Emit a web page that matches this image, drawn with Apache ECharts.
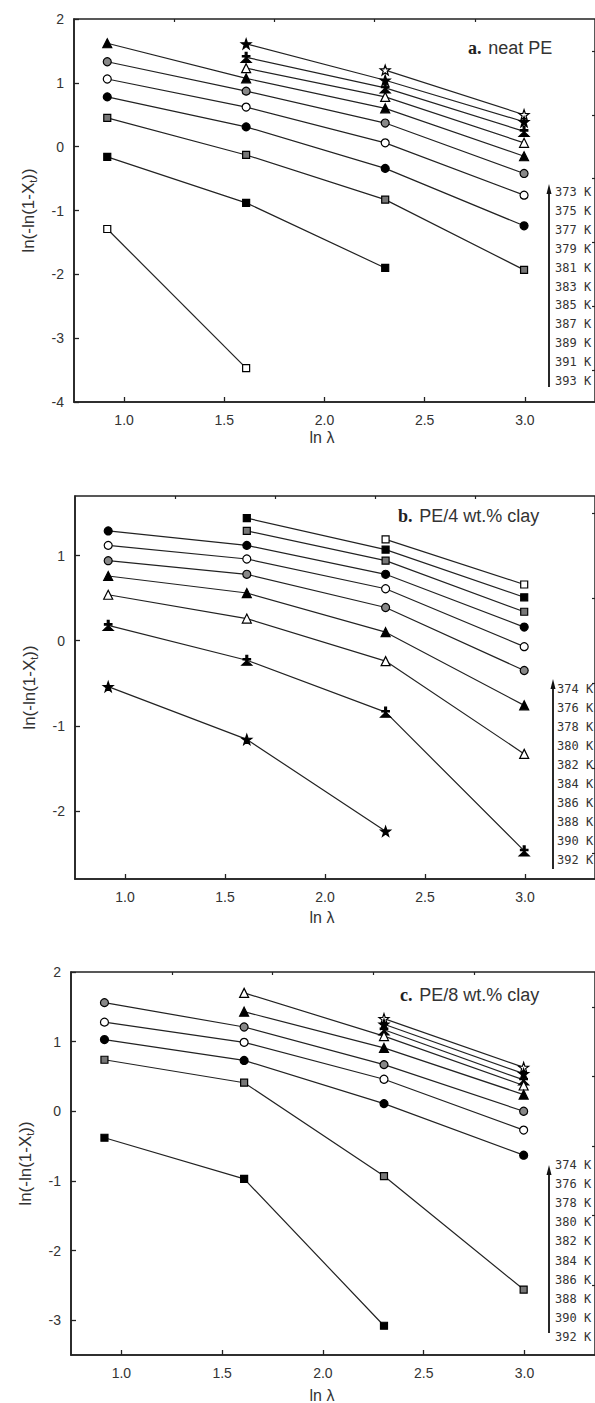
<!DOCTYPE html>
<html>
<head>
<meta charset="utf-8">
<script src="https://cdn.jsdelivr.net/npm/echarts@6/dist/echarts.min.js"></script>
<style>
html,body{margin:0;padding:0;background:#fff;}
#chart{width:595px;height:1403px;}
</style>
</head>
<body>
<div id="chart"></div>
<script>
// ---- data ----
const lnLambda = [0.916, 1.609, 2.303, 2.996];
const xTickValues = [1.0, 1.5, 2.0, 2.5, 3.0];
const xMinorValues = [1.25, 1.75, 2.25, 2.75];

// Panel a: neat PE (373..393 K)
const tempsA = ['373 K','375 K','377 K','379 K','381 K','383 K','385 K','387 K','389 K','391 K','393 K'];
const markersA = ['oSt','fSt','cross','oTr','fTr','sCi','oCi','fCi','dSq','fSq','oSq'];
const a373 = [null, null, 1.20, 0.50];
const a375 = [null, 1.61, 1.04, 0.39];
const a377 = [null, 1.40, 0.92, 0.24];
const a379 = [null, 1.23, 0.78, 0.06];
const a381 = [1.62, 1.07, 0.60, -0.15];
const a383 = [1.33, 0.87, 0.37, -0.42];
const a385 = [1.06, 0.62, 0.06, -0.76];
const a387 = [0.78, 0.31, -0.34, -1.24];
const a389 = [0.45, -0.13, -0.83, -1.93];
const a391 = [-0.16, -0.88, -1.90, null];
const a393 = [-1.29, -3.47, null, null];
const valuesA = [a373,a375,a377,a379,a381,a383,a385,a387,a389,a391,a393];
const yTicksA = [-4,-3,-2,-1,0,1,2];
const yMinorA = [-3.5,-2.5,-1.5,-0.5,0.5,1.5];

// Panel b: PE/4 wt.% clay (374..392 K)
const tempsB = ['374 K','376 K','378 K','380 K','382 K','384 K','386 K','388 K','390 K','392 K'];
const markersB = ['oSq','fSq','dSq','fCi','oCi','sCi','fTr','oTr','cross','fSt'];
const b374 = [null, null, 1.19, 0.66];
const b376 = [null, 1.44, 1.07, 0.51];
const b378 = [null, 1.29, 0.94, 0.34];
const b380 = [1.29, 1.12, 0.78, 0.16];
const b382 = [1.12, 0.96, 0.61, -0.07];
const b384 = [0.94, 0.78, 0.39, -0.35];
const b386 = [0.76, 0.56, 0.10, -0.76];
const b388 = [0.54, 0.26, -0.24, -1.33];
const b390 = [0.18, -0.23, -0.84, -2.47];
const b392 = [-0.54, -1.16, -2.24, null];
const valuesB = [b374,b376,b378,b380,b382,b384,b386,b388,b390,b392];
const yTicksB = [-2,-1,0,1];
const yMinorB = [-2.5,-1.5,-0.5,0.5,1.5];

// Panel c: PE/8 wt.% clay (374..392 K)
const tempsC = ['374 K','376 K','378 K','380 K','382 K','384 K','386 K','388 K','390 K','392 K'];
const markersC = ['oSt','fSt','cross','oTr','fTr','sCi','oCi','fCi','dSq','fSq'];
const c374 = [null, null, 1.33, 0.63];
const c376 = [null, null, 1.25, 0.54];
const c378 = [null, null, 1.17, 0.45];
const c380 = [null, 1.70, 1.08, 0.37];
const c382 = [null, 1.43, 0.91, 0.24];
const c384 = [1.56, 1.21, 0.67, 0.00];
const c386 = [1.28, 0.99, 0.46, -0.27];
const c388 = [1.03, 0.73, 0.11, -0.63];
const c390 = [0.74, 0.41, -0.93, -2.56];
const c392 = [-0.38, -0.97, -3.08, null];
const valuesC = [c374,c376,c378,c380,c382,c384,c386,c388,c390,c392];
const yTicksC = [-3,-2,-1,0,1,2];
const yMinorC = [-2.5,-1.5,-0.5,0.5,1.5];

// ---- styles ----
const STAR = 'path://M0,-10 L2.35,-3.24 L9.51,-3.09 L3.8,1.24 L5.88,8.09 L0,4 L-5.88,8.09 L-3.8,1.24 L-9.51,-3.09 L-2.35,-3.24 Z';
const CROSS = 'path://M-1.5,-10 L1.5,-10 L1.5,-4 L6,-4 L6,-1.5 L1.5,-1.5 L1.5,1 L8,8 L-8,8 L-1.5,1 L-1.5,-1.5 L-6,-1.5 L-6,-4 L-1.5,-4 Z';
const markerStyles = {
  oSq:{symbol:'rect', size:7, fill:'#fff'},
  fSq:{symbol:'rect', size:7, fill:'#000'},
  dSq:{symbol:'rect', size:7, fill:'#777'},
  fCi:{symbol:'circle', size:8, fill:'#000'},
  oCi:{symbol:'circle', size:8, fill:'#fff'},
  sCi:{symbol:'circle', size:8, fill:'#888'},
  fTr:{symbol:'triangle', size:9, fill:'#000'},
  oTr:{symbol:'triangle', size:9, fill:'#fff'},
  fSt:{symbol:STAR, size:10, fill:'#000'},
  oSt:{symbol:STAR, size:10, fill:'#fff'},
  cross:{symbol:CROSS, size:10, fill:'#000'}
};

const FONT = 'Liberation Sans, Arial, sans-serif';
const panels = [
  {left:74, top:19, height:383, ppu:207, yMin:-4, yMax:2, yTicks:yTicksA, yMinor:yMinorA, temps:tempsA, markers:markersA, values:valuesA,
   title:['a.','neat PE'], titleX:468, titleY:50, legX:555, legArrowX:549, legY0:192, legStep:18.9, arrowTop:186, arrowBottom:387, xNameY:437},
  {left:75, top:496, height:383, ppu:208, yMin:-2.8, yMax:1.7, yTicks:yTicksB, yMinor:yMinorB, temps:tempsB, markers:markersB, values:valuesB,
   title:['b.','PE/4 wt.% clay'], titleX:398, titleY:518, legX:557, legArrowX:553, legY0:689, legStep:19, arrowTop:681, arrowBottom:869, xNameY:917},
  {left:71, top:972, height:383, ppu:209, yMin:-3.5, yMax:2, yTicks:yTicksC, yMinor:yMinorC, temps:tempsC, markers:markersC, values:valuesC,
   title:['c.','PE/8 wt.% clay'], titleX:400, titleY:997, legX:555, legArrowX:549, legY0:1165, legStep:19.1, arrowTop:1167, arrowBottom:1333, xNameY:1395}
];
const X_MIN = 0.75, X_MAX = 3.35;

const grid = [], xAxis = [], yAxis = [], series = [], graphic = [];
panels.forEach((p, pi) => {
  grid.push({left:p.left, top:p.top, height:p.height, width:(X_MAX - X_MIN) * p.ppu,
    show:true, borderColor:'#222', borderWidth:1.5, backgroundColor:'transparent', containLabel:false});
  // major x axis
  xAxis.push({gridIndex:pi, type:'value', min:X_MIN, max:X_MAX,
    axisLine:{show:true, onZero:false, lineStyle:{color:'#222', width:1.6}},
    axisTick:{show:true, inside:true, length:5, customValues:xTickValues, lineStyle:{color:'#222', width:1.3}},
    axisLabel:{show:true, customValues:xTickValues, margin:11, color:'#333', fontSize:14, fontFamily:FONT,
      formatter:v => v.toFixed(1)},
    splitLine:{show:false}});
  // minor x ticks
  xAxis.push({gridIndex:pi, type:'value', min:X_MIN, max:X_MAX,
    axisLine:{show:false, onZero:false},
    axisTick:{show:true, inside:true, length:3, customValues:xMinorValues, lineStyle:{color:'#222', width:1.2}},
    axisLabel:{show:false}, splitLine:{show:false}});
  // major y axis
  yAxis.push({gridIndex:pi, type:'value', min:p.yMin, max:p.yMax,
    name:'{a|ln(-ln(1-X}{s|t}{a|))}', nameLocation:'middle', nameGap:36, nameRotate:90,
    nameTextStyle:{color:'#333', fontFamily:FONT,
      rich:{a:{fontSize:17, color:'#333', fontFamily:FONT}, s:{fontSize:11, color:'#333', fontFamily:FONT, padding:[9,0,0,0]}}},
    axisLine:{show:true, onZero:false, lineStyle:{color:'#222', width:1.6}},
    axisTick:{show:true, inside:true, length:5, customValues:p.yTicks, lineStyle:{color:'#222', width:1.3}},
    axisLabel:{show:true, customValues:p.yTicks, margin:10, color:'#333', fontSize:14, fontFamily:FONT,
      formatter:v => String(Math.round(v))},
    splitLine:{show:false}});
  // minor y ticks
  yAxis.push({gridIndex:pi, type:'value', min:p.yMin, max:p.yMax,
    axisLine:{show:false, onZero:false},
    axisTick:{show:true, inside:true, length:3, customValues:p.yMinor, lineStyle:{color:'#222', width:1.2}},
    axisLabel:{show:false}, splitLine:{show:false}});

  p.values.forEach((vals, si) => {
    const m = markerStyles[p.markers[si]];
    const data = [];
    lnLambda.forEach((x, i) => { if (vals[i] !== null) data.push([x, vals[i]]); });
    series.push({
      type:'line', name:p.temps[si], xAxisIndex:pi*2, yAxisIndex:pi*2, data:data,
      symbol:m.symbol, symbolSize:m.size, showAllSymbol:true, animation:false,
      lineStyle:{color:'#222', width:1.2},
      itemStyle:{color:m.fill, borderColor:'#000', borderWidth:1.2},
      emphasis:{disabled:true}, z:3
    });
  });

  // panel title
  graphic.push({type:'text', left:p.titleX, top:p.titleY - 11, silent:true,
    style:{text:'{b|' + p.title[0] + '}  {n|' + p.title[1] + '}',
      rich:{b:{fontSize:18, fontWeight:'bold', fontFamily:'Liberation Serif, Times New Roman, serif', fill:'#222'},
            n:{fontSize:18, fontFamily:FONT, fill:'#333'}}}});
  // x axis name
  graphic.push({type:'text', x:322, y:p.xNameY, silent:true,
    style:{text:'ln λ', fontSize:16, fontFamily:FONT, fill:'#333', align:'center', verticalAlign:'middle'}});
  // legend arrow
  graphic.push({type:'line', silent:true, shape:{x1:p.legArrowX, y1:p.arrowTop + 4, x2:p.legArrowX, y2:p.arrowBottom},
    style:{stroke:'#111', lineWidth:1.8}});
  graphic.push({type:'polygon', silent:true,
    shape:{points:[[p.legArrowX - 2.5, p.arrowTop + 8], [p.legArrowX, p.arrowTop - 2], [p.legArrowX + 2.5, p.arrowTop + 8]]},
    style:{fill:'#111'}});
  // legend labels (top label = lowest temperature)
  p.temps.forEach((t, i) => {
    graphic.push({type:'text', x:p.legX, y:p.legY0 + i * p.legStep, silent:true,
      style:{text:t, fontSize:12, fontFamily:'DejaVu Sans Mono, monospace', fill:'#333', verticalAlign:'middle'}});
  });
});

const chart = echarts.init(document.getElementById('chart'), null, {renderer:'svg', width:595, height:1403});
chart.setOption({
  animation:false,
  backgroundColor:'#fff',
  grid:grid, xAxis:xAxis, yAxis:yAxis, series:series, graphic:graphic
});
</script>
</body>
</html>
